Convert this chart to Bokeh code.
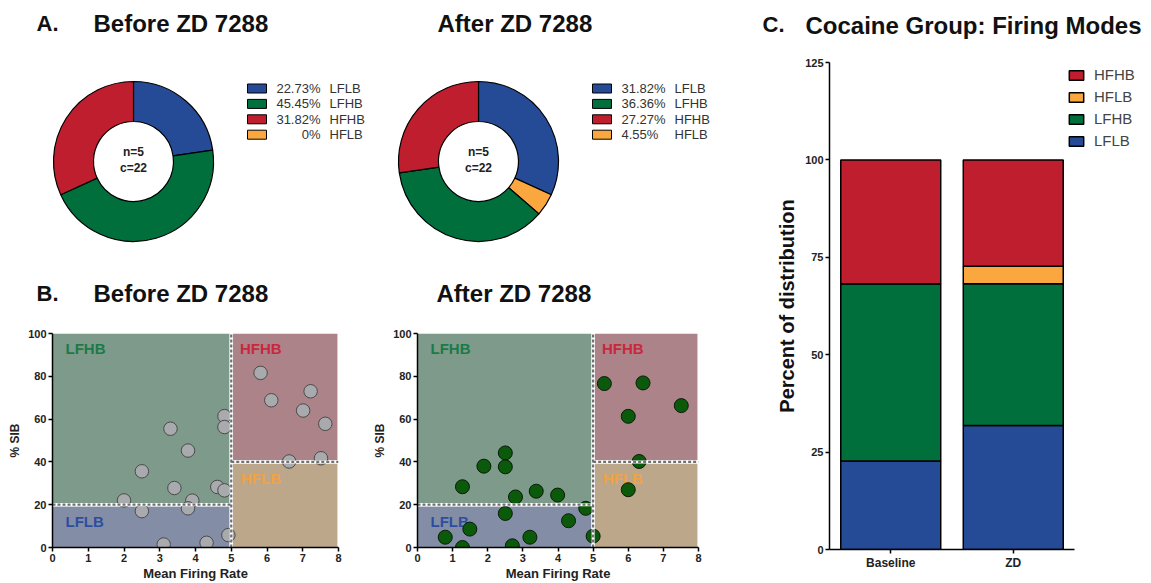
import numpy as np
from bokeh.plotting import figure
from bokeh.layouts import row, column
from bokeh.models import ColumnDataSource, Range1d, Legend, LegendItem, FixedTicker
from bokeh.core.properties import value
from bokeh.embed import file_html
from bokeh.resources import INLINE

# ---------------- data ----------------
modes = ["LFLB", "HFLB", "LFHB", "HFHB"]            # clockwise order in the pies
mode_colors = ["#264B96", "#F9A73E", "#006F3C", "#BE1E2D"]
before_pct = [22.73, 0.0, 45.45, 31.82]
after_pct = [31.82, 4.55, 36.36, 27.27]
pie_legend_order = ["LFLB", "LFHB", "HFHB", "HFLB"]
bar_stack_order = ["LFLB", "LFHB", "HFLB", "HFHB"]  # bottom to top
n_animals = 5
n_cells = 22

before_rate = [5.82, 6.12, 7.22, 7.01, 7.63, 7.51, 6.62, 4.81, 4.81, 3.30, 3.79,
               2.50, 3.41, 4.61, 4.81, 2.00, 3.91, 3.79, 2.50, 3.11, 4.31, 4.92]
before_sib = [81.6, 68.8, 73.0, 64.0, 57.8, 41.7, 40.2, 61.4, 56.3, 55.5, 45.3,
              35.6, 27.8, 28.3, 26.7, 22.0, 21.9, 18.3, 17.0, 1.4, 2.2, 5.8]
after_rate = [5.32, 6.42, 7.51, 6.00, 6.31, 6.00, 2.50, 1.89, 2.50, 1.28, 3.38,
              3.99, 2.79, 4.79, 2.50, 4.30, 1.49, 0.79, 3.20, 5.00, 1.28, 2.70]
after_sib = [76.6, 76.9, 66.3, 61.3, 40.2, 27.0, 44.2, 38.0, 37.7, 28.4, 26.3,
             24.5, 23.6, 18.3, 15.9, 12.5, 8.6, 4.8, 4.8, 5.3, 0.0, 0.8]

rate_cut = 5
sib_cut_lf = 20
sib_cut_hf = 40
rate_max = 8
sib_max = 100

bar_groups = ["Baseline", "ZD"]
bar_ticks_y = [0, 25, 50, 75, 100, 125]
bar_y_max = 125

FONT = "Liberation Sans"
col = dict(zip(modes, mode_colors))
pct_before = dict(zip(modes, before_pct))
pct_after = dict(zip(modes, after_pct))

# ---------------- top: pies + titles ----------------
top = figure(width=760, height=310, x_range=Range1d(0, 760), y_range=Range1d(-310, 0),
             output_backend="svg", toolbar_location=None, min_border=0,
             x_axis_location=None, y_axis_location=None, outline_line_color=None)
top.xgrid.visible = False
top.ygrid.visible = False


def add_text(fig, x, y, txt, size, bold=True, align="left", color="#111111"):
    fig.text(x=x, y=y, text=txt, text_font=value(FONT), text_font_size=size,
             text_font_style="bold" if bold else "normal", text_align=align,
             text_baseline="middle", text_color=color)


def pie(fig, cx, cy, pct, leg_x, pct_align):
    frac = np.array(pct) / np.sum(pct)
    ends = np.cumsum(frac)
    starts = ends - frac
    keep = frac > 0
    src = ColumnDataSource(dict(start=(np.pi / 2 - 2 * np.pi * starts)[keep],
                                end=(np.pi / 2 - 2 * np.pi * ends)[keep],
                                color=list(np.array(mode_colors)[keep])))
    fig.annular_wedge(x=cx, y=-cy, inner_radius=40, outer_radius=80,
                      start_angle="start", end_angle="end", direction="clock",
                      fill_color="color", line_color="black", line_width=1.2, source=src)
    add_text(fig, [cx], [-(cy - 10)], [f"n={n_animals}"], "12px", color="#222222", align="center")
    add_text(fig, [cx], [-(cy + 6)], [f"c={n_cells}"], "12px", color="#222222", align="center")
    vals = dict(zip(modes, pct))
    ys = [-(88 + 15.4 * i) for i in range(len(pie_legend_order))]
    fig.rect(x=[leg_x + 9.5] * len(ys), y=ys, width=19, height=9,
             fill_color=[col[m] for m in pie_legend_order], line_color="black", line_width=1)
    ptxt = [f"{vals[m]:g}%" for m in pie_legend_order]
    if pct_align == "right":
        add_text(fig, [leg_x + 73] * len(ys), ys, ptxt, "13px", bold=False, align="right", color="#333333")
    else:
        add_text(fig, [leg_x + 29] * len(ys), ys, ptxt, "13px", bold=False, align="left", color="#333333")
    add_text(fig, [leg_x + 82] * len(ys), ys, pie_legend_order, "13px", bold=False, color="#333333")


pie(top, 133, 161, before_pct, 247, "right")
pie(top, 478, 161, after_pct, 592, "left")

add_text(top, [36], [-23], ["A."], "22px")
add_text(top, [93], [-23], ["Before ZD 7288"], "24px")
add_text(top, [437], [-23], ["After ZD 7288"], "24px")
add_text(top, [36], [-293], ["B."], "22px")
add_text(top, [93], [-293], ["Before ZD 7288"], "24px")
add_text(top, [436], [-293], ["After ZD 7288"], "24px")

# ---------------- scatter panels ----------------
region_names = ["LFHB", "HFHB", "LFLB", "HFLB"]
region_fill = ["#7E9A8A", "#AC8389", "#838EA6", "#BDA78A"]
region_text = ["#1B7A48", "#C8283C", "#2D4E9E", "#F0A244"]


def style_axes(p, tick_size="11px"):
    for ax in (p.xaxis[0], p.yaxis[0]):
        ax.axis_line_width = 1.5
        ax.axis_line_color = "black"
        ax.major_tick_line_width = 1.5
        ax.major_tick_line_color = "black"
        ax.major_tick_in = 0
        ax.major_tick_out = 4
        ax.minor_tick_line_color = None
        ax.major_label_text_font = FONT
        ax.major_label_text_font_size = tick_size
        ax.major_label_text_font_style = "bold"
        ax.major_label_text_color = "#222222"
        ax.major_label_standoff = 2
        ax.axis_label_text_font = FONT
        ax.axis_label_text_font_style = "bold"
        ax.axis_label_text_color = "#222222"
    p.xgrid.visible = False
    p.ygrid.visible = False
    p.outline_line_color = None


def scatter_panel(width, bl, br, rate, sib, fill, line, size):
    p = figure(width=width, height=273, x_range=Range1d(0, rate_max), y_range=Range1d(0, sib_max),
               output_backend="svg", toolbar_location=None,
               min_border_left=bl, min_border_right=br, min_border_top=23, min_border_bottom=36)
    style_axes(p)
    p.xaxis.ticker = FixedTicker(ticks=list(range(0, rate_max + 1)))
    p.yaxis.ticker = FixedTicker(ticks=list(range(0, sib_max + 1, 20)))
    p.xaxis.axis_label = "Mean Firing Rate"
    p.yaxis.axis_label = "% SIB"
    p.xaxis.axis_label_text_font_size = "13px"
    p.yaxis.axis_label_text_font_size = "12px"
    p.xaxis.axis_label_standoff = 1
    p.yaxis.axis_label_standoff = 3
    g = 0.05   # half gap (rate units)
    gy = 0.8   # half gap (SIB units)
    left = [0, rate_cut + g, 0, rate_cut + g]
    right = [rate_cut - g, rate_max - 0.03, rate_cut - g, rate_max - 0.03]
    bottom = [sib_cut_lf + gy, sib_cut_hf + gy, 0, 0]
    top_ = [sib_max, sib_max, sib_cut_lf - gy, sib_cut_hf - gy]
    p.quad(left=left, right=right, bottom=bottom, top=top_, fill_color=region_fill, line_color=None)
    p.text(x=left, y=top_, text=region_names, x_offset=[13, 7, 13, 8],
           y_offset=[15, 15, 15, 15], text_font=value(FONT), text_font_size="15px",
           text_font_style="bold", text_color=region_text, text_baseline="middle")
    p.scatter(x=rate, y=sib, size=size, fill_color=fill, line_color=line, line_width=1)
    p.segment(x0=[0, rate_cut, rate_cut], y0=[sib_cut_lf, sib_cut_hf, 0],
              x1=[rate_cut, rate_max, rate_cut], y1=[sib_cut_lf, sib_cut_hf, sib_max],
              line_color="white", line_width=3)
    p.segment(x0=[0, rate_cut, rate_cut], y0=[sib_cut_lf, sib_cut_hf, 0],
              x1=[rate_cut, rate_max, rate_cut], y1=[sib_cut_lf, sib_cut_hf, sib_max],
              line_color="#707070", line_width=2.2, line_dash="3 2")
    return p


sc1 = scatter_panel(370, 52, 32, before_rate, before_sib, "#A9AAAE", "#4A4A4A", 13.5)
sc2 = scatter_panel(390, 42, 62, after_rate, after_sib, "#0B5A0B", "#0A1A0A", 14)

# ---------------- panel C ----------------
head = figure(width=391, height=45, x_range=Range1d(760, 1151), y_range=Range1d(-45, 0),
              output_backend="svg", toolbar_location=None, min_border=0,
              x_axis_location=None, y_axis_location=None, outline_line_color=None)
head.xgrid.visible = False
head.ygrid.visible = False
add_text(head, [762], [-24], ["C."], "22px")
add_text(head, [805], [-25], ["Cocaine Group: Firing Modes"], "24px")

BAR_W = 391
BL, BR = 69, 5
unit_px = 122.5                     # pixels per category slot
x_end = (BAR_W - BL - BR) / unit_px
bar = figure(width=BAR_W, height=538, x_range=Range1d(0, x_end), y_range=Range1d(0, bar_y_max),
             output_backend="svg", toolbar_location=None,
             min_border_left=BL, min_border_right=BR, min_border_top=17, min_border_bottom=34)
style_axes(bar)
xpos = list(np.arange(len(bar_groups)) + 0.5)
bar.xaxis.bounds = (0, len(bar_groups))
bar.xaxis.ticker = FixedTicker(ticks=xpos)
bar.xaxis.major_label_overrides = {float(x): g for x, g in zip(xpos, bar_groups)}
bar.xaxis.major_label_text_font_size = "12px"
bar.yaxis.ticker = FixedTicker(ticks=bar_ticks_y)
bar.yaxis.axis_label = "Percent of distribution"
bar.yaxis.axis_label_text_font_size = "20px"
bar.yaxis.axis_label_standoff = 4
bar.yaxis.axis_label_text_color = "#111111"

bsrc = ColumnDataSource(dict(x=xpos, group=bar_groups,
                             **{m: [pct_before[m], pct_after[m]] for m in bar_stack_order}))
rends = bar.vbar_stack(bar_stack_order, x="x", width=0.816,
                       fill_color=[col[m] for m in bar_stack_order],
                       line_color="black", line_width=1.5, source=bsrc)
items = [LegendItem(label=m, renderers=[r]) for m, r in reversed(list(zip(bar_stack_order, rends)))]
legend = Legend(items=items, location=(238, 400), padding=0, margin=0, spacing=5,
                glyph_width=18, glyph_height=12, label_standoff=9,
                label_text_font=FONT, label_text_font_size="15px", label_text_color="#444444",
                border_line_color=None, background_fill_alpha=0)
bar.add_layout(legend)

layout = row(column(top, row(sc1, sc2)), column(row(head), bar))
open("out.html", "w").write(file_html(layout, INLINE))
